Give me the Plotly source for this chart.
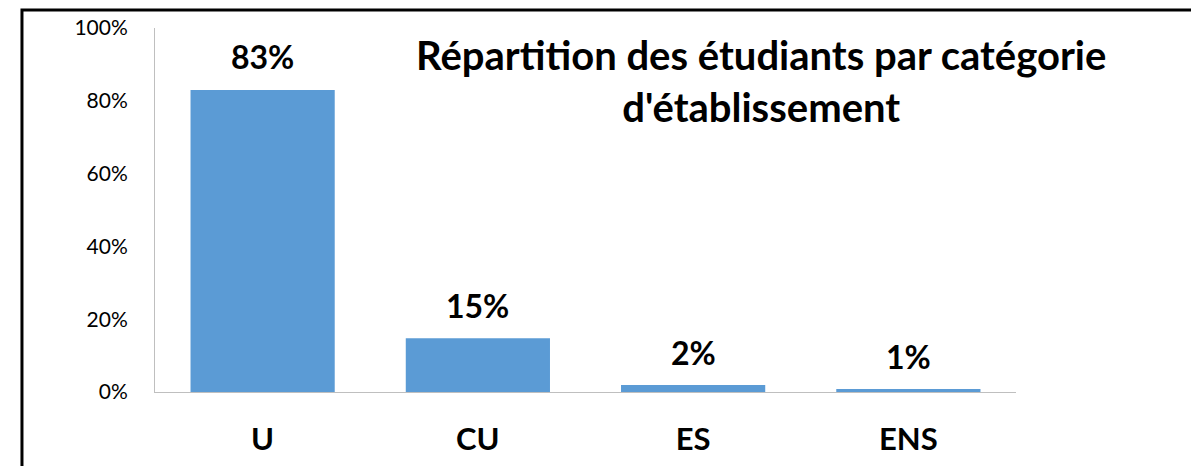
import plotly.graph_objects as go

# data
categories = ['U', 'CU', 'ES', 'ENS']
shares = [0.83, 0.148, 0.019, 0.008]
tick_vals = [0, 0.2, 0.4, 0.6, 0.8, 1.0]
tick_text = ['0%', '20%', '40%', '60%', '80%', '100%']
title_text = "Répartition des étudiants par catégorie<br>d'établissement"

FONT = 'Lato'
BLUE = '#5B9BD5'
AXIS = '#BFBFBF'

fig = go.Figure(go.Bar(
    x=categories,
    y=shares,
    marker=dict(color=BLUE, line=dict(width=0)),
    width=0.67,
    hoverinfo='skip'))

# value labels above bars
for c, v in zip(categories, shares):
    fig.add_annotation(
        x=c, y=v, xref='x', yref='y',
        text='<b>%d%%</b>' % round(v * 100),
        showarrow=False, yanchor='middle', yshift=33,
        font=dict(family=FONT, size=32, color='black'))

fig.add_annotation(
    x=0.704, y=0.854, xref='paper', yref='paper',
    text='<b>' + title_text + '</b>',
    showarrow=False, xanchor='center', yanchor='middle',
    align='center',
    font=dict(family=FONT, size=40, color='black'))

# outer chart frame
fig.add_shape(type='rect', xref='paper', yref='paper',
              x0=-0.1545, x1=1.212, y0=-0.3, y1=1.0495,
              line=dict(color='black', width=3), layer='above')

# page body has an 8px margin, so the figure is sized to fit the window
fig.update_layout(
    width=1191, height=458,
    margin=dict(l=147, r=183, t=20, b=74),
    plot_bgcolor='white', paper_bgcolor='white',
    showlegend=False,
    xaxis=dict(showline=True, linecolor=AXIS, linewidth=1,
               ticks='', showgrid=False, zeroline=False, automargin=False,
               tickfont=dict(family=FONT, size=31, color='black'),
               ticklabelstandoff=20,
               tickvals=categories,
               ticktext=['<b>%s</b>' % c for c in categories]),
    yaxis=dict(showline=True, linecolor=AXIS, linewidth=1,
               range=[0, 1], ticks='', showgrid=False, zeroline=False,
               automargin=False,
               tickvals=tick_vals, ticktext=tick_text,
               tickfont=dict(family=FONT, size=21, color='black'),
               ticklabelstandoff=22))

fig.write_html('out.html')
